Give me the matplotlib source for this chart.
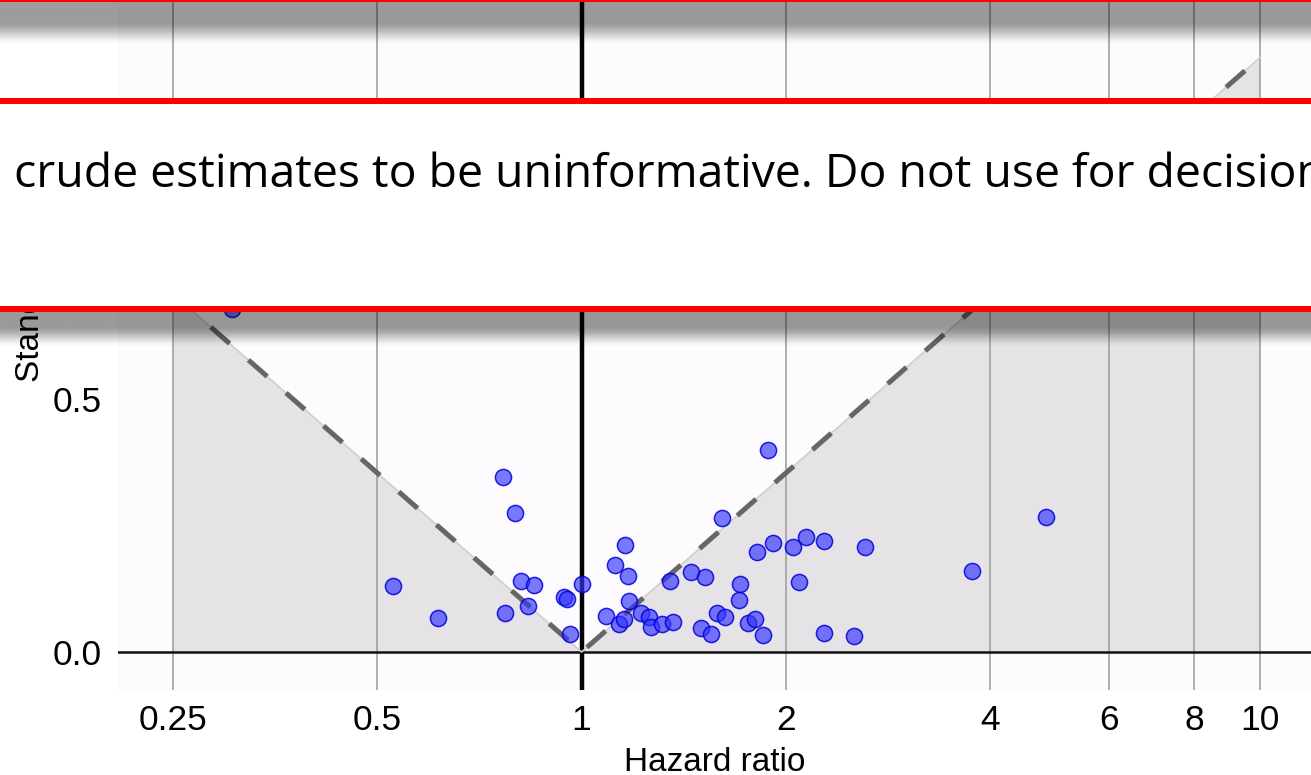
import numpy as np
import matplotlib.pyplot as plt
from matplotlib.patches import Rectangle

# Study estimates: hazard ratio and its standard error (log scale)
hazard_ratio = [0.305, 0.528, 0.614, 0.765, 0.799, 0.770, 0.813, 0.851, 0.835, 0.941,
                0.952, 0.962, 1.003, 1.157, 1.119, 1.172, 1.175, 1.087, 1.137, 1.155,
                1.222, 1.259, 1.265, 1.313, 1.366, 1.351, 1.448, 1.520, 1.609, 1.586,
                1.625, 1.499, 1.551, 1.714, 1.705, 1.761, 1.802, 1.849, 1.812, 1.917,
                1.883, 2.051, 2.142, 2.277, 2.090, 2.277, 2.519, 2.619, 3.758, 4.833]
std_error = [0.678, 0.131, 0.068, 0.346, 0.275, 0.078, 0.141, 0.132, 0.090, 0.109,
             0.105, 0.035, 0.134, 0.211, 0.171, 0.151, 0.100, 0.071, 0.055, 0.065,
             0.078, 0.070, 0.049, 0.055, 0.060, 0.141, 0.159, 0.149, 0.265, 0.077,
             0.070, 0.047, 0.036, 0.134, 0.102, 0.057, 0.065, 0.034, 0.197, 0.215,
             0.399, 0.208, 0.228, 0.219, 0.139, 0.038, 0.032, 0.207, 0.161, 0.266]

x_ticks = [0.25, 0.5, 1, 2, 4, 6, 8, 10]
x_tick_labels = ['0.25', '0.5', '1', '2', '4', '6', '8', '10']
y_ticks = [0.0, 0.5, 1.0]
y_tick_labels = ['0.0', '0.5', '1.0']

# Funnel: region where the estimate is significant at p < 0.05
z = 1.96
hr_low, hr_high = 0.25, 10
funnel_x = [hr_low, 1, hr_high]
funnel_y = [abs(np.log(h)) / z for h in funnel_x]

W, H = 1311, 775
fig = plt.figure(figsize=(W / 100, H / 100), dpi=100)
fig.patch.set_facecolor('white')
ax = fig.add_axes([118 / W, 1 - 690 / H, 1 - 118 / W, 690 / H])
ax.set_facecolor('#fdfbfd')

ax.set_xscale('log')
ax.set_xlim(0.2073, 11.89)
ax.set_ylim(-0.0751, 1.2885)

# Shaded area outside the funnel
ax.fill([hr_low] + funnel_x + [hr_high], [0] + funnel_y + [0], color='#e6e3e6', lw=0, zorder=1)
ax.set_axisbelow('line')

ax.set_xticks(x_ticks)
ax.set_xticklabels(x_tick_labels)
ax.minorticks_off()
ax.set_yticks(y_ticks)
ax.set_yticklabels(y_tick_labels)
ax.grid(axis='x', color='#9a9a9a', lw=1.1)
ax.tick_params(length=0, labelsize=25.5)
ax.tick_params(axis='x', pad=10)
ax.tick_params(axis='y', pad=12)
for lab in ax.get_xticklabels() + ax.get_yticklabels():
    lab.set_family('Liberation Sans')
for s in ax.spines.values():
    s.set_visible(False)

ax.axhline(0, color='#111111', lw=1.8, zorder=2)
ax.axvline(1, color='black', lw=3.2, zorder=2)

ax.plot(funnel_x, funnel_y, color='#cfcfcf', lw=1.2, zorder=3)
ax.plot(funnel_x, funnel_y, color='#666666', lw=3.6, dashes=(5, 5), zorder=3)

ax.scatter(hazard_ratio, std_error, s=135, facecolor=(0.2, 0.2, 1.0, 0.65),
           edgecolor=(0.0, 0.0, 0.85, 0.85), linewidth=1.1, zorder=4)

ax.set_xlabel('Hazard ratio', fontsize=24, family='Liberation Sans', labelpad=7)
ylab = ax.set_ylabel('Standard error', fontsize=24, family='Liberation Sans')
ylab.set(rotation_mode='default', va='bottom', ha='center')
ax.yaxis.set_label_coords((30 - 118) / 1193, (690 - 382) / 690)

# Overlay: callout box across the middle of the plot
ov = fig.add_axes([0, 0, 1, 1], zorder=10)
ov.set_xlim(0, W)
ov.set_ylim(H, 0)
ov.axis('off')
ov.patch.set_alpha(0)

# the y label only shows below the callout box
ylab.set_clip_path(Rectangle((0, 312), 118, H - 312, transform=ov.transData))


def shadow(y0, y1, flat, alpha=0.4):
    n = 200
    t = np.linspace(0, 1, n)
    a = np.where(t < flat, 1.0, 1 - (t - flat) / (1 - flat))
    a = np.clip(a, 0, 1)
    a = a * a * (3 - 2 * a) * alpha
    img = np.zeros((n, 1, 4))
    img[:, 0, 3] = a
    ov.imshow(img, extent=(0, W, y1, y0), aspect='auto', interpolation='bilinear', zorder=1)


shadow(1.5, 46, 0.45, alpha=0.39)
ov.add_patch(Rectangle((0, 98), W, 214, facecolor='white', edgecolor='none', zorder=2))
ov.add_patch(Rectangle((0, 98), W, 6, facecolor='#ff0000', edgecolor='none', zorder=3))
ov.add_patch(Rectangle((0, 306), W, 6, facecolor='#ff0000', edgecolor='none', zorder=3))
ov.add_patch(Rectangle((0, 0), W, 1.8, facecolor='#ff0000', edgecolor='none', zorder=3))
shadow(312, 348, 0.38, alpha=0.4)
ov.set_xlim(0, W)
ov.set_ylim(H, 0)

ov.text(14, 175, 'crude estimates to be uninformative. Do not use for decision',
        fontsize=33.4, family='Open Sans', color='black', ha='left', va='center', zorder=4)

plt.savefig('out.png', dpi=100)
